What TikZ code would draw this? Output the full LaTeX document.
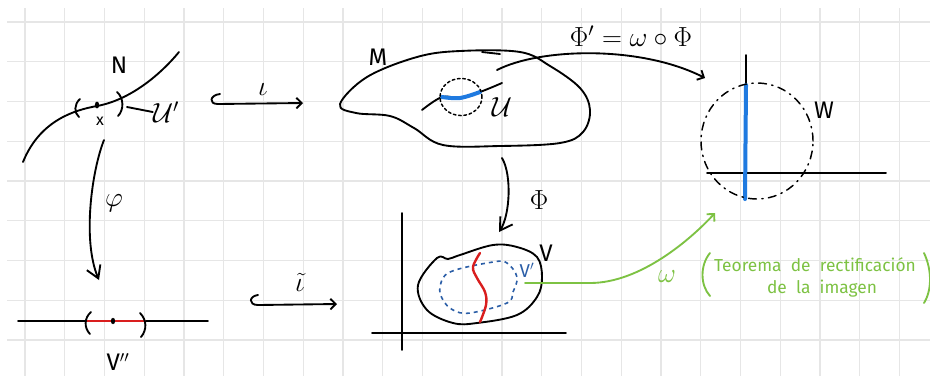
\documentclass[tikz,border=0pt]{standalone}
\usepackage{fontspec}
\setmainfont{Fira Sans}
\usetikzlibrary{arrows.meta}
\definecolor{gridc}{HTML}{E6E6E6}
\definecolor{penblue}{HTML}{1F7AE0}
\definecolor{vblue}{HTML}{2B5EA7}
\definecolor{penred}{HTML}{D91E1E}
\definecolor{pengreen}{HTML}{7DC243}
\tikzset{
  gridline/.style={gridc, line width=1.1pt},
  pen/.style={line width=1.4pt, line cap=round, line join=round},
  barb/.style={-{Straight Barb[length=4pt,width=8pt]}},
  bigbarb/.style={-{Straight Barb[length=9pt,width=11pt]}},
  lbl/.style={inner sep=0pt, font=\fontsize{18}{20}\selectfont},
  mlbl/.style={inner sep=0pt, font=\fontsize{21}{24}\selectfont},
  glbl/.style={inner sep=0pt, text=pengreen, font=\fontsize{13}{15}\selectfont},
  bluethick/.style={penblue, line width=3pt, line cap=round},
  redline/.style={penred, line width=1.8pt, line cap=round},
}
\begin{document}
\begin{tikzpicture}[x=0.75pt,y=-0.75pt]
\useasboundingbox (0,0) rectangle (930,376);
\fill[white] (0,0) rectangle (930,376);
% grid paper
\foreach \i in {0,...,22} \draw[gridline] ({25+39.75*\i},8) -- ({25+39.75*\i},376);
\foreach \j in {0,...,8} \draw[gridline] (7,{22+39.75*\j}) -- (930,{22+39.75*\j});

% ---------- N ----------
\draw[pen] (23,162) .. controls (40,120) and (75,110) .. (97,106) .. controls (130,100) and (160,75) .. (179,52);
\fill (97,105) ellipse [x radius=1.6pt, y radius=2.6pt];
\draw[pen] (80,99) .. controls (74,104) and (74,113) .. (79,117);
\draw[pen] (117,92) .. controls (124,98) and (124,110) .. (118,116);
\node[lbl] (N) at (119,65) {N};
\node[inner sep=0pt, font=\fontsize{12}{13}\selectfont] (x) at (100,121) {x};
\node[mlbl] (up) at (166,112) {$\mathcal{U}'$};
\draw[pen] (127,107) -- (up.west);

% iota arrow
\coordinate (iA) at (220,94);
\coordinate (iB) at (303,103);
\draw[pen,barb] (iA) .. controls (210,95) and (208,104) .. (218,104) -- (iB);
\node[mlbl] (iota) at (263,90) {$\iota$};

% phi arrow
\coordinate (phA) at (104,140);
\coordinate (phB) at (99,280);
\draw[pen,bigbarb] (phA) .. controls (92,170) and (82,240) .. (phB);
\node[mlbl] (phi) at (114,203) {$\varphi$};

% ---------- V'' ----------
\draw[pen] (18,321) -- (208,321);
\draw[redline] (86,321) -- (145,321);
\draw[pen] (91,312) .. controls (84,318) and (84,328) .. (90,334);
\draw[pen] (140,313) .. controls (147,320) and (147,330) .. (141,337);
\fill (113,321) ellipse [x radius=1.6pt, y radius=2.4pt];
\node[lbl] (Vpp) at (118,362) {V$''$};

% tilde iota arrow
\coordinate (tA) at (258,295);
\coordinate (tB) at (337,304);
\draw[pen,barb] (tA) .. controls (249,296) and (248,305) .. (258,305) -- (tB);
\node[mlbl] (tiota) at (300,282) {$\tilde\iota$};

% ---------- M ----------
\draw[pen] plot[smooth cycle, tension=0.6] coordinates {(340,104) (356,113) (390,116) (414,128) (443,145) (500,146) (560,143) (583,132) (590,110) (580,88) (550,66) (520,52) (460,51) (417,57) (367,77)};
\draw[pen] (482,52) -- (500,54);
\draw[pen] plot[smooth, tension=0.6] coordinates {(422,110) (442,97) (460,98) (480,92) (502,83)};
\draw[bluethick] plot[smooth, tension=0.6] coordinates {(442,97) (460,98) (480,92)};
\draw[pen, line width=1.1pt, dash pattern=on 2pt off 2pt] (461,97) ellipse [x radius=15.75pt, y radius=13.9pt];
\node[lbl] (M) at (378,57) {M};
\node[mlbl] (u) at (502,107) {$\mathcal{U}$};

% Phi' arrow
\coordinate (pA) at (497,70);
\coordinate (pB) at (705,78);
\draw[pen,barb] (pA) .. controls (540,48) and (640,45) .. (pB);
\node[mlbl] (phiprime) at (631,36) {$\Phi'=\omega\circ\Phi$};

% ---------- W ----------
\draw[pen] (746,55) -- (746,85);
\draw[pen] (707,173) -- (886,173);
\draw[bluethick] (746,85) -- (745,199);
\draw[pen, line width=1.1pt, dash pattern=on 6pt off 4pt on 1pt off 4pt] (757,141) ellipse [x radius=42pt, y radius=43.5pt];
\node[lbl] (W) at (824,110) {W};

% Phi arrow
\coordinate (fA) at (502,158);
\coordinate (fB) at (499,232);
\draw[pen,bigbarb] (fA) .. controls (512,175) and (510,215) .. (fB);
\node[mlbl] (Phi) at (539,200) {$\Phi$};

% ---------- V ----------
\draw[pen] (402,213) -- (402,350);
\draw[pen] (372,333) -- (566,333);
\draw[pen] plot[smooth cycle, tension=0.6] coordinates {(418,285) (427,310) (453,323) (477,323) (517,315) (537,297) (542,277) (537,257) (517,247) (493,245) (460,255) (448,259) (437,258)};
\draw[vblue, line width=1.2pt, dash pattern=on 3pt off 3pt] plot[smooth cycle, tension=0.6] coordinates {(440,287) (450,272) (493,262) (507,263) (517,277) (513,292) (507,303) (470,313) (453,310) (443,300)};
\draw[redline] plot[smooth, tension=0.6] coordinates {(480,253) (473,267) (477,278) (485,292) (486,305) (480,322)};
\node[lbl] (V) at (546,253) {V};
\node[inner sep=0pt, text=vblue, font=\fontsize{14}{16}\selectfont] (Vp) at (527,270) {V$'$};

% omega arrow
\coordinate (gA) at (525,283);
\coordinate (gB) at (715,213);
\draw[pengreen, pen, barb] (gA) -- (590,283) .. controls (640,283) and (690,240) .. (gB);
\node[mlbl, text=pengreen] (omega) at (667,277) {$\omega$};
\draw[pengreen, pen] (710,253) .. controls (700,265) and (700,285) .. (710,296);
\draw[pengreen, pen] (924,253) .. controls (932,270) and (932,290) .. (924,303);
\node[glbl] (t1) at (815,265) {Teorema\ \ de\ \ rectificación};
\node[glbl] (t2) at (822,289) {de\ \ la\ \ imagen};
\end{tikzpicture}
\end{document}
